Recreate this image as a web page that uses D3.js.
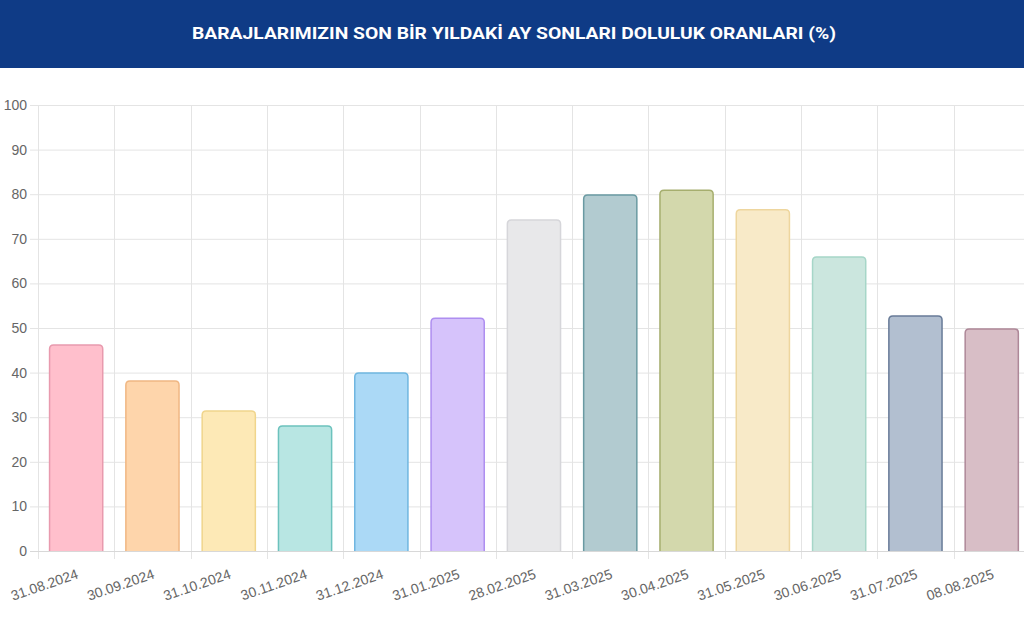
<!DOCTYPE html>
<html>
<head>
<meta charset="utf-8">
<script src="https://cdn.jsdelivr.net/npm/d3@7"></script>
<style>
  body { margin: 0; background: #fff; }
  svg { display: block; }
</style>
</head>
<body>
<div id="chart"></div>
<script>
var dates = ["31.08.2024", "30.09.2024", "31.10.2024", "30.11.2024", "31.12.2024", "31.01.2025",
    "28.02.2025", "31.03.2025", "30.04.2025", "31.05.2025", "30.06.2025", "31.07.2025", "08.08.2025"];
var values = [46.2, 38.1, 31.4, 28.0, 39.9, 52.2, 74.2, 79.8, 80.9, 76.5, 65.9, 52.7, 49.8];
var fills = ["#ffbfcc", "#fed5ab", "#fde9b6", "#b8e6e3", "#abd9f6", "#d6c3fb", "#e8e8ea",
    "#b2cbd0", "#d3d8ac", "#f8eac8", "#cbe6de", "#b2bfd0", "#d8bec6"];
var strokes = ["#e89aae", "#f0b783", "#f0d58c", "#6cc2bd", "#6fb6e0", "#ae8ef0", "#d6d6da",
    "#6a9aa2", "#a6ae6e", "#eed69e", "#a6d6c8", "#687b98", "#ae8898"];
var yTicks = [0, 10, 20, 30, 40, 50, 60, 70, 80, 90, 100];

var width = 1024, height = 634;
var margin = {top: 105, left: 38, bottom: 83};

var svg = d3.select("#chart").append("svg")
    .attr("width", width)
    .attr("height", height);

// header band
svg.append("rect")
    .attr("x", 0).attr("y", 0)
    .attr("width", width).attr("height", 68)
    .attr("fill", "#0f3b86");
svg.append("text")
    .attr("x", 514).attr("y", 39)
    .attr("text-anchor", "middle")
    .attr("fill", "#fff")
    .attr("font-family", "Roboto, sans-serif")
    .attr("font-weight", "bold")
    .attr("font-size", 17)
    .attr("textLength", 644)
    .attr("lengthAdjust", "spacingAndGlyphs")
    .text("BARAJLARIMIZIN SON BİR YILDAKİ AY SONLARI DOLULUK ORANLARI (%)");

var x = d3.scaleBand()
    .domain(dates)
    .range([margin.left, margin.left + 76.3 * dates.length])
    .paddingInner(0.29)
    .paddingOuter(0.145);

var y = d3.scaleLinear()
    .domain([0, 100])
    .range([height - margin.bottom, margin.top]);

var step = x.step();
var gridX = dates.map(function(d, i) { return margin.left + i * step; });
gridX.push(margin.left + dates.length * step);

// horizontal grid
svg.append("g").selectAll("line")
    .data(yTicks)
    .join("line")
    .attr("x1", margin.left - 8)
    .attr("x2", width)
    .attr("y1", function(d) { return y(d) + 0.5; })
    .attr("y2", function(d) { return y(d) + 0.5; })
    .attr("stroke", "#e4e4e4");

// vertical grid
svg.append("g").selectAll("line")
    .data(gridX)
    .join("line")
    .attr("x1", function(d) { return Math.round(d) + 0.5; })
    .attr("x2", function(d) { return Math.round(d) + 0.5; })
    .attr("y1", y(100))
    .attr("y2", y(0) + 8)
    .attr("stroke", "#e4e4e4");

// y labels
svg.append("g").selectAll("text")
    .data(yTicks)
    .join("text")
    .attr("x", 27)
    .attr("y", function(d) { return y(d) + 5; })
    .attr("text-anchor", "end")
    .attr("fill", "#666")
    .attr("font-family", "'Liberation Sans', Arial, sans-serif")
    .attr("font-size", 14)
    .text(function(d) { return d; });

// bars with rounded top corners
function barPath(d, i) {
    var x0 = x(dates[i]) + 0.5, w = x.bandwidth() - 1;
    var y0 = y(d), y1 = y(0), r = 4;
    return "M" + x0 + "," + y1 +
        "V" + (y0 + r) +
        "Q" + x0 + "," + y0 + " " + (x0 + r) + "," + y0 +
        "H" + (x0 + w - r) +
        "Q" + (x0 + w) + "," + y0 + " " + (x0 + w) + "," + (y0 + r) +
        "V" + y1;
}

svg.append("g").selectAll("path")
    .data(values)
    .join("path")
    .attr("d", barPath)
    .attr("fill", function(d, i) { return fills[i]; })
    .attr("stroke", function(d, i) { return strokes[i]; })
    .attr("stroke-width", 1.5);

// x axis line
svg.append("line")
    .attr("x1", margin.left - 8).attr("x2", width)
    .attr("y1", y(0) + 0.5).attr("y2", y(0) + 0.5)
    .attr("stroke", "#d8d8d8");

// x labels, rotated
svg.append("g").selectAll("text")
    .data(dates)
    .join("text")
    .attr("transform", function(d) {
        return "translate(" + (x(d) + x.bandwidth() / 2 + 3) + "," + (y(0) + 27) + ") rotate(-19)";
    })
    .attr("text-anchor", "end")
    .attr("fill", "#666")
    .attr("font-family", "'Liberation Sans', Arial, sans-serif")
    .attr("font-size", 14)
    .text(function(d) { return d; });
</script>
</body>
</html>
